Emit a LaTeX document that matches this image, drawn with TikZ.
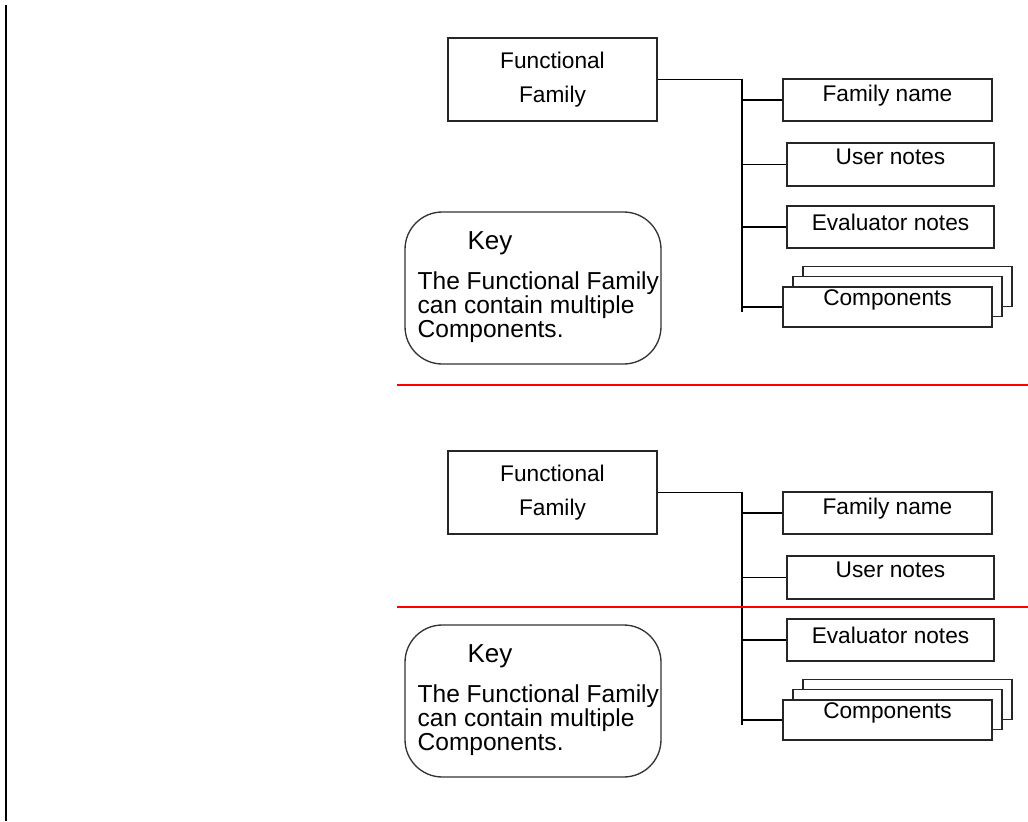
\documentclass[tikz,border=0pt]{standalone}
\usepackage{fontspec}
\setmainfont{Liberation Sans}
\usetikzlibrary{positioning,calc}

\begin{document}
\begin{tikzpicture}[x=0.75pt, y=-0.75pt, line width=1pt,
    ffbox/.style={draw=black!85, inner sep=0pt, minimum width=156.75pt, minimum height=62.25pt,
      align=center, font=\fontsize{17}{25.5}\selectfont},
    fieldbox/.style={draw=black!85, fill=white, inner sep=0pt, minimum width=156.75pt, minimum height=31.5pt},
    fieldtext/.style={inner sep=0pt, font=\fontsize{17}{20}\selectfont},
    keybox/.style={draw=black!80, rounded corners=28pt, inner sep=0pt, minimum width=192pt, minimum height=114pt},
    keytext/.style={inner sep=0pt, align=left, font=\fontsize{18.4}{18}\selectfont},
    redline/.style={red, line width=1.5pt}]
    \useasboundingbox (0,0) rectangle (1028,821);
    \draw[line width=1.5pt] (6,5) -- (6,821);

    \foreach \dy/\sfx in {0/a,413/b}{
      \begin{scope}[shift={(0,\dy)}]
        \node[ffbox] (ff\sfx) at (552.5,79.5) {Functional\\Family};
        % fields
        \node[fieldbox] (name\sfx) at (887.5,100) {};
        \node[fieldbox, minimum width=155.25pt, minimum height=32.25pt] (user\sfx) at (890.5,164.5) {};
        \node[fieldbox, minimum width=155.25pt] (eval\sfx) at (890.5,227) {};
        \node[fieldbox, minimum height=30pt] (compc\sfx) at (907.5,286.5) {};
        \node[fieldbox, minimum height=30pt] (compb\sfx) at (897.5,296.5) {};
        \node[fieldbox, minimum height=30pt] (comp\sfx) at (887.5,307) {};
        \node[fieldtext] (namet\sfx) at (887.5,96) {Family name};
        \node[fieldtext] (usert\sfx) at (890.5,157) {User notes};
        \node[fieldtext] (evalt\sfx) at (890.5,222) {Evaluator notes};
        \node[fieldtext] (compt\sfx) at (887.5,300) {Components};
        % tree lines
        \coordinate (tb\sfx) at (742,312);
        \draw (ff\sfx.east) -| (tb\sfx);
        \foreach \fld in {name,user,eval,comp}
          \draw (\fld\sfx.west -| tb\sfx) -- (\fld\sfx.west);
        % key
        \node[keybox] (key\sfx) at (533,288) {};
        \node[inner sep=0pt, font=\fontsize{19.5}{22}\selectfont] (keyh\sfx) at (490,243) {Key};
        \node[keytext, anchor=west] (keyt\sfx) at (417,307) {The Functional Family\\can contain multiple\\Components.};
      \end{scope}
    }

    \draw[redline] (397,385) -- (1028,385);
    \draw[redline] (397,607) -- (1028,607);
\end{tikzpicture}
\end{document}
